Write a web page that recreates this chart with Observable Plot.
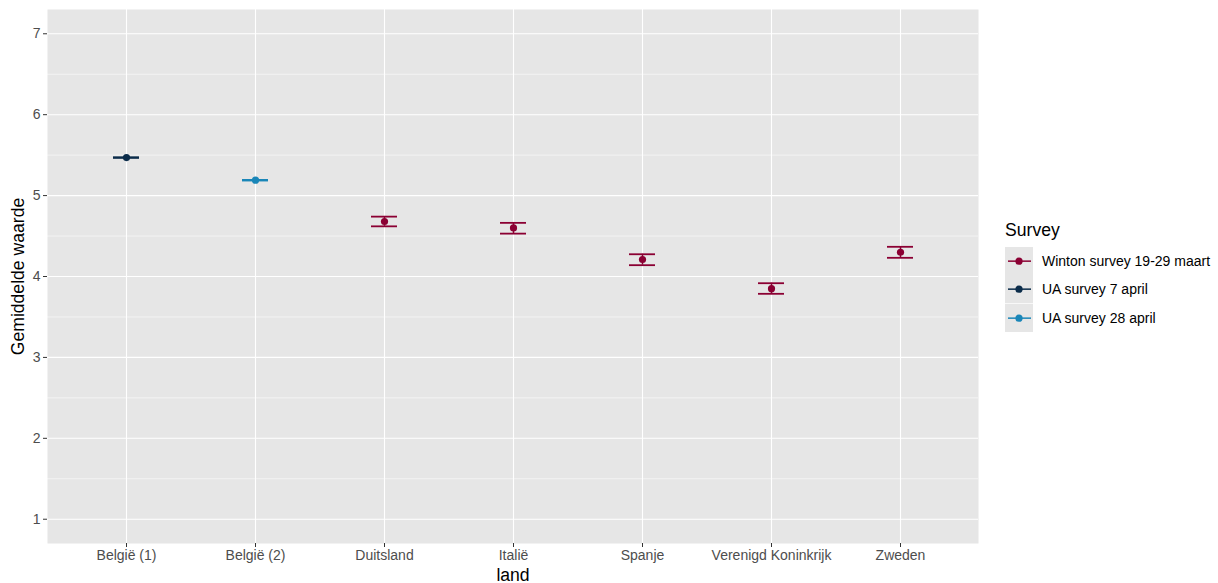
<!DOCTYPE html>
<html>
<head>
<meta charset="utf-8">
<script src="https://cdn.jsdelivr.net/npm/d3@7"></script>
<script src="https://cdn.jsdelivr.net/npm/@observablehq/plot@0.6"></script>
<style>
  body { margin: 0; background: white; font-family: "Liberation Sans", Arial, sans-serif; }
  #wrap { position: relative; width: 1218px; height: 583px; }
  #legend { position: absolute; left: 1005px; top: 218px; }
  #legend .title { font-size: 17.6px; color: #000; height: 29px; line-height: 24px; }
  #legend .row { display: flex; align-items: center; height: 28.3px; }
  #legend .row span { font-size: 14px; color: #000; margin-left: 9px; white-space: nowrap; }
</style>
</head>
<body>
<div id="wrap">
  <div id="chart"></div>
  <div id="legend"></div>
</div>
<script>
const countries = ["België (1)", "België (2)", "Duitsland", "Italië", "Spanje", "Verenigd Koninkrijk", "Zweden"];
const surveys = ["Winton survey 19-29 maart", "UA survey 7 april", "UA survey 28 april"];
const surveyOf = ["UA survey 7 april", "UA survey 28 april", "Winton survey 19-29 maart", "Winton survey 19-29 maart", "Winton survey 19-29 maart", "Winton survey 19-29 maart", "Winton survey 19-29 maart"];
const means = [5.47, 5.19, 4.68, 4.60, 4.21, 3.85, 4.30];
const lower = [5.466, 5.186, 4.62, 4.53, 4.14, 3.786, 4.231];
const upper = [5.474, 5.194, 4.74, 4.663, 4.275, 3.917, 4.367];
const colors = ["#8B0033", "#0B2C4A", "#1A86B8"];
const yTicks = [1, 2, 3, 4, 5, 6, 7];
const yMinor = [1.5, 2.5, 3.5, 4.5, 5.5, 6.5];

const data = countries.map((c, i) => ({land: c, survey: surveyOf[i], mean: means[i], lower: lower[i], upper: upper[i]}));

const plot = Plot.plot({
  width: 1218, height: 583,
  marginLeft: 47, marginRight: 240, marginTop: 9, marginBottom: 40,
  x: {type: "band", domain: countries, paddingInner: 0.8, paddingOuter: 0.5, align: 0.5},
  y: {domain: [0.7, 7.3]},
  color: {domain: surveys, range: colors},
  style: {fontFamily: "'Liberation Sans', Arial, sans-serif", background: "white", overflow: "visible"},
  marks: [
    Plot.frame({fill: "#E6E6E6", stroke: null}),
    Plot.gridY(yMinor, {stroke: "white", strokeOpacity: 1, strokeWidth: 0.55}),
    Plot.gridY(yTicks, {stroke: "white", strokeOpacity: 1, strokeWidth: 1.1}),
    Plot.gridX(countries, {stroke: "white", strokeOpacity: 1, strokeWidth: 1.1}),
    Plot.ruleX(data, {x: "land", y1: "lower", y2: "upper", stroke: "survey", strokeWidth: 1.5}),
    Plot.tickY(data, {x: "land", y: "lower", stroke: "survey", strokeWidth: 1.8}),
    Plot.tickY(data, {x: "land", y: "upper", stroke: "survey", strokeWidth: 1.8}),
    Plot.dot(data, {x: "land", y: "mean", fill: "survey", r: 3.6}),
    Plot.axisY(yTicks, {tickSize: 4, tickPadding: 3, fontSize: 14, fill: "#4D4D4D", stroke: "#333333", label: null, tickFormat: d3.format("d")}),
    Plot.axisX(countries, {tickSize: 4, tickPadding: 3, fontSize: 14, fill: "#4D4D4D", stroke: "#333333", label: null}),
    Plot.text(["land"], {frameAnchor: "bottom", dy: 32, lineAnchor: "middle", textAnchor: "middle", fontSize: 17.6, fill: "black"}),
    Plot.text(["Gemiddelde waarde"], {frameAnchor: "left", dx: -29, rotate: -90, textAnchor: "middle", lineAnchor: "middle", fontSize: 17.6, fill: "black"})
  ]
});
document.getElementById("chart").appendChild(plot);

// legend
const leg = d3.select("#legend");
leg.append("div").attr("class", "title").text("Survey");
surveys.forEach((s, i) => {
  const row = leg.append("div").attr("class", "row");
  const svg = row.append("svg").attr("width", 28).attr("height", 28.3);
  svg.append("rect").attr("width", 28).attr("height", 28.3).attr("fill", "#E6E6E6");
  svg.append("line").attr("x1", 3).attr("x2", 26).attr("y1", 14.15).attr("y2", 14.15)
    .attr("stroke", colors[i]).attr("stroke-width", 1.5);
  svg.append("circle").attr("cx", 14).attr("cy", 14.15).attr("r", 3.6).attr("fill", colors[i]);
  row.append("span").text(s);
});
</script>
</body>
</html>
